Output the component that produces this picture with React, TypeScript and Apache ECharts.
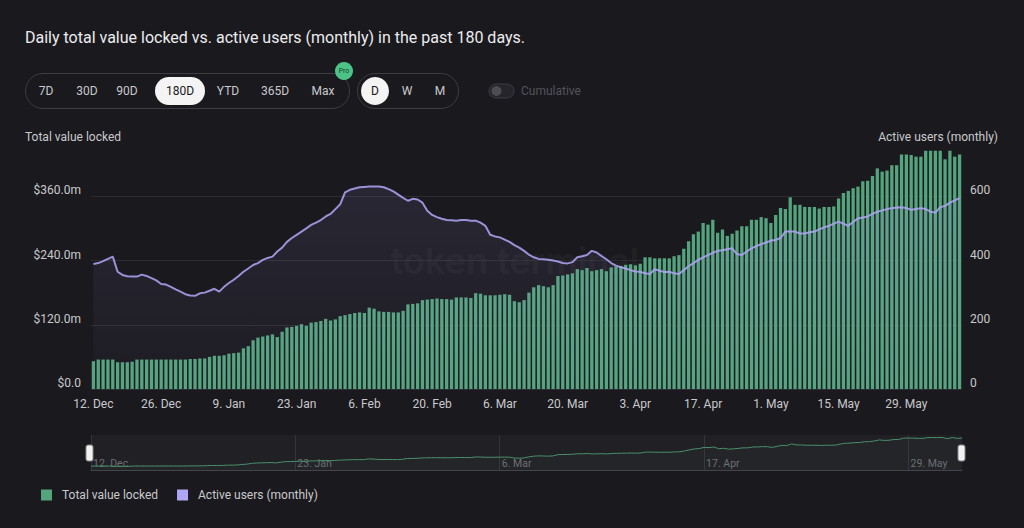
import React, { useEffect, useRef } from "react";
import * as echarts from "echarts";

const START_UTC = Date.UTC(2022, 11, 12);
const MONTHS = ["Jan", "Feb", "Mar", "Apr", "May", "Jun", "Jul", "Aug", "Sep", "Oct", "Nov", "Dec"];

// Total value locked ($m), daily
const tvl = [
  52, 55, 55, 55, 55, 50, 50, 50, 51, 55,
  55, 55, 55, 55, 55, 55, 55, 55, 55, 55,
  56, 56, 57, 57, 60, 62, 62, 63, 66, 67,
  68, 76, 80, 91, 96, 98, 100, 102, 97, 107,
  115, 116, 118, 121, 118, 124, 125, 127, 131, 128,
  130, 136, 138, 140, 142, 143, 142, 152, 150, 145,
  144, 144, 143, 143, 146, 158, 159, 160, 166, 167,
  168, 169, 168, 168, 167, 171, 171, 171, 170, 179,
  178, 175, 175, 175, 176, 177, 176, 164, 162, 166,
  180, 190, 194, 192, 190, 194, 211, 212, 214, 216,
  224, 222, 226, 220, 222, 224, 220, 227, 229, 230,
  232, 233, 231, 234, 246, 246, 244, 244, 244, 244,
  248, 250, 262, 276, 289, 294, 310, 307, 316, 292,
  298, 286, 290, 296, 304, 304, 316, 316, 321, 319,
  310, 325, 338, 336, 358, 344, 344, 340, 340, 340,
  337, 340, 340, 341, 356, 366, 370, 375, 378, 388,
  389, 398, 412, 406, 408, 418, 418, 438, 438, 437,
  434, 434, 445, 445, 445, 445, 429, 445, 434, 438,
];

// Active users (monthly)
const users = [
  389, 392, 398, 405, 412, 365, 355, 351, 350, 350,
  356, 352, 345, 338, 327, 325, 318, 310, 303, 295,
  291, 290, 298, 300, 306, 312, 303, 318, 330, 340,
  352, 365, 375, 386, 392, 402, 408, 412, 428, 440,
  458, 470, 480, 490, 500, 511, 518, 526, 537, 545,
  560, 575, 612, 620, 624, 628, 629, 630, 630, 630,
  628, 622, 615, 605, 595, 586, 592, 590, 580, 555,
  542, 535, 530, 526, 525, 524, 526, 526, 524, 524,
  518, 508, 480, 475, 472, 465, 458, 448, 440, 430,
  418, 410, 405, 404, 402, 400, 397, 392, 391, 395,
  410, 413, 417, 430, 425, 414, 404, 392, 384, 379,
  375, 370, 366, 365, 360, 358, 373, 368, 364, 365,
  360, 358, 370, 382, 392, 402, 410, 417, 424, 430,
  432, 435, 438, 420, 417, 428, 438, 445, 451, 456,
  462, 464, 470, 490, 490, 490, 484, 484, 488, 490,
  497, 503, 508, 515, 521, 515, 508, 520, 531, 534,
  537, 545, 552, 556, 560, 563, 565, 566, 563, 558,
  560, 563, 560, 552, 549, 566, 570, 580, 587, 594,
];

const dates = tvl.map((_, i) => {
  const d = new Date(START_UTC + i * 86400000);
  return `${d.getUTCDate()}. ${MONTHS[d.getUTCMonth()]}`;
});

const rangeButtons = [
  { label: "7D", x: 46 },
  { label: "30D", x: 87 },
  { label: "90D", x: 127 },
  { label: "180D", x: 180, selected: true },
  { label: "YTD", x: 228 },
  { label: "365D", x: 275 },
  { label: "Max", x: 323 },
];
const granButtons = [
  { label: "D", x: 375, selected: true },
  { label: "W", x: 407 },
  { label: "M", x: 440 },
];

const FONT = 'Roboto, "Noto Sans", sans-serif';
const GREEN = "#54a47e";
const PURPLE = "#b0a6f7";
const TEXT = "#c9c9cc";

export default function App() {
  const ref = useRef<HTMLDivElement>(null);
  useEffect(() => {
    document.body.style.margin = "0";
    document.body.style.background = "#1a191e";
    const chart = echarts.init(ref.current!, null, { renderer: "svg" });

    const graphics: any[] = [
      {
        type: "text",
        x: 25,
        y: 37,
        style: {
          text: "Daily total value locked vs. active users (monthly) in the past 180 days.",
          fill: "#ececee",
          font: `16px ${FONT}`,
          verticalAlign: "middle",
        },
      },
      {
        type: "rect",
        shape: { x: 25.5, y: 73.5, width: 324, height: 35, r: 17.5 },
        style: { fill: "none", stroke: "#3d3c43", lineWidth: 1 },
      },
      {
        type: "rect",
        shape: { x: 357.5, y: 73.5, width: 101, height: 35, r: 17.5 },
        style: { fill: "none", stroke: "#3d3c43", lineWidth: 1 },
      },
      {
        type: "rect",
        shape: { x: 155, y: 77, width: 50, height: 28, r: 14 },
        style: { fill: "#f4f4f4" },
      },
      {
        type: "circle",
        shape: { cx: 375, cy: 91, r: 14 },
        style: { fill: "#f4f4f4" },
      },
      {
        type: "circle",
        shape: { cx: 344, cy: 71, r: 9 },
        style: { fill: "#4cc287" },
      },
      {
        type: "text",
        x: 344,
        y: 71,
        style: { text: "Pro", fill: "#14452c", font: `7px ${FONT}`, align: "center", verticalAlign: "middle" },
      },
      {
        type: "rect",
        shape: { x: 489, y: 84, width: 25, height: 14, r: 7 },
        style: { fill: "#26252b", stroke: "#3d3c43", lineWidth: 1 },
      },
      {
        type: "circle",
        shape: { cx: 496.5, cy: 91, r: 5 },
        style: { fill: "#4d4c53" },
      },
      {
        type: "text",
        x: 521,
        y: 91,
        style: { text: "Cumulative", fill: "#54535a", font: `12px ${FONT}`, verticalAlign: "middle" },
      },
      {
        type: "text",
        x: 25,
        y: 136.5,
        style: { text: "Total value locked", fill: TEXT, font: `12px ${FONT}`, verticalAlign: "middle" },
      },
      {
        type: "text",
        x: 998,
        y: 136.5,
        style: { text: "Active users (monthly)", fill: TEXT, font: `12px ${FONT}`, align: "right", verticalAlign: "middle" },
      },
      {
        type: "text",
        x: 515,
        y: 261,
        z: -1,
        style: {
          text: "token terminal",
          fill: "rgba(255,255,255,0.05)",
          font: `600 36px Inter, ${FONT}`,
          align: "center",
          verticalAlign: "middle",
        },
      },
      {
        type: "rect",
        z: 100,
        shape: { x: 86, y: 445, width: 7, height: 16, r: 2 },
        style: { fill: "#f2f2f2", stroke: "#888", lineWidth: 1 },
      },
      {
        type: "rect",
        z: 100,
        shape: { x: 958, y: 445, width: 7, height: 16, r: 2 },
        style: { fill: "#f2f2f2", stroke: "#888", lineWidth: 1 },
      },
    ];
    rangeButtons.concat(granButtons).forEach((b: any) => {
      graphics.push({
        type: "text",
        x: b.x,
        y: 91,
        z: 10,
        style: {
          text: b.label,
          fill: b.selected ? "#18171b" : TEXT,
          font: `12px ${FONT}`,
          align: "center",
          verticalAlign: "middle",
        },
      });
    });

    chart.setOption({
      animation: false,
      backgroundColor: "#1a191e",
      textStyle: { fontFamily: FONT },
      graphic: graphics,
      legend: {
        left: 41,
        top: 489,
        padding: 0,
        icon: "rect",
        itemWidth: 11,
        itemHeight: 11,
        itemGap: 19,
        textStyle: { color: TEXT, fontSize: 12, fontFamily: FONT, padding: [0, 0, 0, 5] },
        data: ["Total value locked", "Active users (monthly)"],
      },
      grid: [
        { left: 91, right: 62, top: 132, height: 257 },
        {
          left: 91,
          right: 62,
          top: 435,
          height: 35,
          show: true,
          backgroundColor: "#212025",
          borderWidth: 0,
        },
      ],
      xAxis: [
        {
          type: "category",
          gridIndex: 0,
          data: dates,
          boundaryGap: true,
          axisLine: { show: false },
          axisTick: { show: false },
          axisLabel: { interval: 13, color: TEXT, fontSize: 12, margin: 9 },
          splitLine: { show: false },
        },
        {
          type: "category",
          gridIndex: 1,
          data: dates,
          boundaryGap: false,
          axisLine: { show: true, lineStyle: { color: "#45444b" } },
          axisTick: { show: false },
          axisLabel: {
            interval: 41,
            inside: true,
            color: "#6e6d74",
            fontSize: 10.5,
            align: "left",
            margin: 1,
            padding: [0, 0, 0, 2],
          },
          splitLine: { show: true, interval: 41, lineStyle: { color: "#35343a", width: 1 } },
        },
      ],
      yAxis: [
        {
          type: "value",
          gridIndex: 0,
          min: 0,
          max: 480,
          interval: 120,
          axisLine: { show: false },
          axisTick: { show: false },
          axisLabel: {
            color: TEXT,
            fontSize: 12,
            margin: 10,
            verticalAlign: "bottom",
            showMaxLabel: false,
            formatter: (v: number) => (v === 0 ? "$0.0" : `$${v.toFixed(1)}m`),
          },
          splitLine: { show: true, showMaxLine: false, lineStyle: { color: "#2d2c32", width: 1 } },
        },
        {
          type: "value",
          gridIndex: 0,
          min: 0,
          max: 800,
          interval: 200,
          position: "right",
          axisLine: { show: false },
          axisTick: { show: false },
          axisLabel: {
            color: TEXT,
            fontSize: 12,
            margin: 8,
            verticalAlign: "bottom",
            showMaxLabel: false,
          },
          splitLine: { show: false },
        },
        {
          type: "value",
          gridIndex: 1,
          min: 0,
          max: 480,
          axisLine: { show: false },
          axisTick: { show: false },
          axisLabel: { show: false },
          splitLine: { show: false },
        },
      ],
      series: [
        {
          name: "Total value locked",
          type: "bar",
          xAxisIndex: 0,
          yAxisIndex: 0,
          data: tvl,
          barCategoryGap: "32%",
          itemStyle: { color: GREEN },
          z: 2,
        },
        {
          name: "Active users (monthly)",
          type: "line",
          xAxisIndex: 0,
          yAxisIndex: 1,
          data: users,
          symbol: "none",
          z: 3,
          lineStyle: { color: PURPLE, width: 2, opacity: 0.85 },
          itemStyle: { color: PURPLE },
          areaStyle: {
            color: new echarts.graphic.LinearGradient(0, 0, 0, 1, [
              { offset: 0, color: "rgba(176,166,247,0.14)" },
              { offset: 1, color: "rgba(176,166,247,0.03)" },
            ]),
          },
        },
        {
          name: "nav",
          type: "line",
          xAxisIndex: 1,
          yAxisIndex: 2,
          data: tvl,
          symbol: "none",
          silent: true,
          lineStyle: { color: "#4a8f6c", width: 1 },
          areaStyle: { color: "rgba(82,162,124,0.06)" },
        },
      ],
    });
    return () => chart.dispose();
  }, []);
  return <div ref={ref} style={{ position: "fixed", left: 0, top: 0, width: 1024, height: 528 }} />;
}
